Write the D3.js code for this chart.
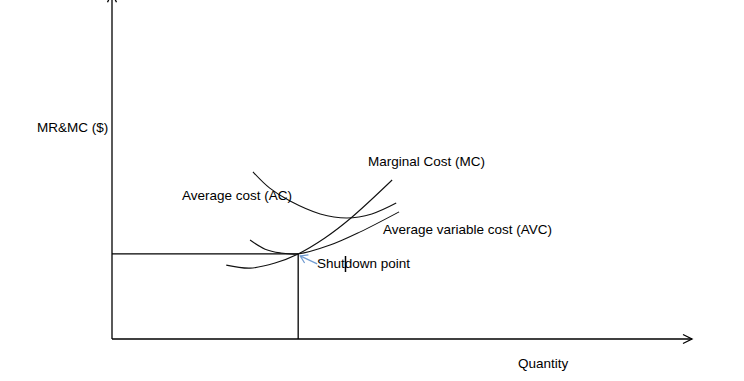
<!DOCTYPE html>
<meta charset="utf-8">
<style>
body { margin: 0; background: #fff; }
svg { display: block; }
.axis, .guide { stroke: #000; stroke-width: 1.3; fill: none; }
.curve { stroke: #111; stroke-width: 1.1; fill: none; }
.lbl { font-family: 'Liberation Sans', Arial, sans-serif; font-size: 13.5px; fill: #000; }
#arrowhead polyline { fill: none; stroke: #000; stroke-width: 1.3; }
#bluehead polyline { fill: none; stroke: #6f9ad0; stroke-width: 1.2; }
</style>
<body>
<div id="chart"></div>
<script src="https://cdn.jsdelivr.net/npm/d3@7"></script>
<script>
// quantity (0-100) vs cost (0-100)
var acCurve  = [[24.3,49.3],[27.2,44.5],[30.7,40.7],[35.9,36.9],[40.5,35.7],[44.8,36.9],[49.0,40.1]];
var avcCurve = [[23.8,29.2],[26.4,26.5],[29.0,25.4],[32.1,25.1],[37.6,27.7],[42.8,31.6],[49.5,37.5]];
var mcCurve  = [[19.7,21.8],[23.8,20.9],[28.1,22.4],[32.1,25.1],[36.7,29.8],[41.2,35.7],[48.3,46.9]];
var shutdown = [32.1, 25.1];

var axisLabels = ['MR&MC ($)', 'Quantity'];
var curveLabels = ['Marginal Cost (MC)', 'Average cost (AC)', 'Average variable cost (AVC)', 'Shutdown point'];

var width = 744, height = 381;

var svg = d3.select('#chart')
  .append('svg')
  .attr('width', width)
  .attr('height', height);

var x = d3.scaleLinear().domain([0, 100]).range([112, 692]);
var y = d3.scaleLinear().domain([0, 100]).range([339, 0]);

var defs = svg.append('defs');
defs.append('marker')
    .attr('id', 'arrowhead')
    .attr('viewBox', '-12 -8 14 16')
    .attr('refX', 0).attr('refY', 0)
    .attr('markerWidth', 14).attr('markerHeight', 16)
    .attr('markerUnits', 'userSpaceOnUse')
    .attr('orient', 'auto')
  .append('polyline')
    .attr('points', '-9,-4.5 0,0 -9,4.5');

defs.append('marker')
    .attr('id', 'bluehead')
    .attr('viewBox', '-10 -7 12 14')
    .attr('refX', 0).attr('refY', 0)
    .attr('markerWidth', 12).attr('markerHeight', 14)
    .attr('markerUnits', 'userSpaceOnUse')
    .attr('orient', 'auto')
  .append('polyline')
    .attr('points', '-7,-4.5 0,0 -7,4.5');

// axes
svg.append('line').attr('class', 'axis')
  .attr('x1', x(0)).attr('y1', y(0))
  .attr('x2', x(0)).attr('y2', y(102))
  .attr('marker-end', 'url(#arrowhead)');

svg.append('line').attr('class', 'axis')
  .attr('x1', x(0)).attr('y1', y(0))
  .attr('x2', x(100)).attr('y2', y(0))
  .attr('marker-end', 'url(#arrowhead)');

// shutdown guides
svg.append('line').attr('class', 'guide')
  .attr('x1', x(0)).attr('y1', y(shutdown[1]))
  .attr('x2', x(shutdown[0])).attr('y2', y(shutdown[1]));
svg.append('line').attr('class', 'guide')
  .attr('x1', x(shutdown[0])).attr('y1', y(shutdown[1]))
  .attr('x2', x(shutdown[0])).attr('y2', y(0));

var line = d3.line()
  .x(function(d) { return x(d[0]); })
  .y(function(d) { return y(d[1]); })
  .curve(d3.curveCatmullRom);

[acCurve, avcCurve, mcCurve].forEach(function(c) {
  svg.append('path').attr('class', 'curve').datum(c).attr('d', line);
});

// blue pointer to shutdown point
svg.append('line')
  .attr('x1', x(shutdown[0]) + 19).attr('y1', y(shutdown[1]) + 10)
  .attr('x2', x(shutdown[0]) + 2).attr('y2', y(shutdown[1]) + 2)
  .attr('stroke', '#6f9ad0').attr('stroke-width', 1.2)
  .attr('marker-end', 'url(#bluehead)');

// labels
svg.append('text').attr('class', 'lbl').attr('x', 37).attr('y', 132).text(axisLabels[0]);
svg.append('text').attr('class', 'lbl').attr('x', 518).attr('y', 368).text(axisLabels[1]);

svg.append('text').attr('class', 'lbl').attr('x', 368).attr('y', 166).text(curveLabels[0]);
svg.append('text').attr('class', 'lbl').attr('x', 182).attr('y', 200).text(curveLabels[1]);
svg.append('text').attr('class', 'lbl').attr('x', 383).attr('y', 234).text(curveLabels[2]);
svg.append('text').attr('class', 'lbl').attr('x', 317).attr('y', 268).text(curveLabels[3]);

// text cursor left in the screenshot
svg.append('line')
  .attr('x1', 345.5).attr('y1', 256).attr('x2', 345.5).attr('y2', 272)
  .attr('stroke', '#000').attr('stroke-width', 1.5);
</script>
</body>
